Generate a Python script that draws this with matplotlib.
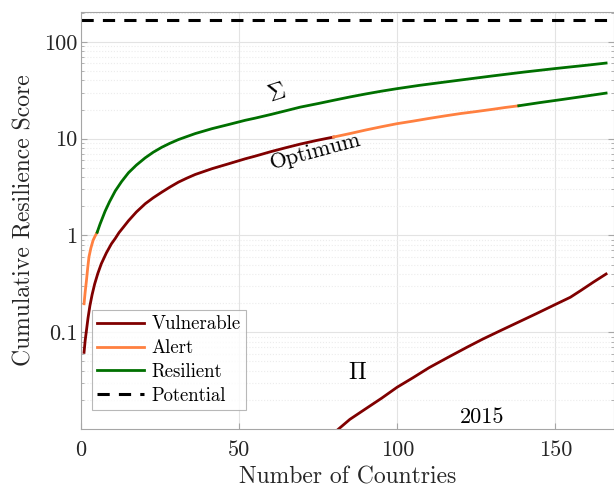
import numpy as np
import matplotlib
matplotlib.use('Agg')
from matplotlib import pyplot as plt
from matplotlib.ticker import FixedLocator, FixedFormatter, LogLocator, NullFormatter

plt.rcParams['font.family'] = 'serif'
plt.rcParams['font.serif'] = ['cmr10', 'DejaVu Serif']
plt.rcParams['mathtext.fontset'] = 'cm'
plt.rcParams['axes.formatter.use_mathtext'] = True

# Sigma curve (cumulative sum), alert part then resilient part
sigma_alert_x = [0.95, 1.3, 1.7, 2.1, 2.5, 3.1, 3.8, 4.4, 5.1]
sigma_alert_y = [0.197, 0.26, 0.34, 0.46, 0.60, 0.74, 0.89, 0.98, 1.08]
sigma_res_x = [5.1, 6.0, 7.6, 9.0, 10.8, 12.8, 15.0, 17.5, 20.3, 22.8, 25.5, 28.0, 30.8, 33.5, 36.1, 41.4,
               46.6, 51.9, 55, 60, 64.6, 69.3, 75, 80, 85, 90, 95, 99.9, 107, 115, 122, 130, 140,
               149.7, 155, 160, 166]
sigma_res_y = [1.08, 1.31, 1.78, 2.23, 2.88, 3.60, 4.45, 5.34, 6.35, 7.24, 8.15, 8.94, 9.80, 10.54, 11.3, 12.7,
               14.0, 15.5, 16.3, 17.8, 19.4, 21.2, 23.1, 25.0, 27.0, 29.0, 31.0, 32.9, 35.6, 38.5, 41.2, 44.5, 48.8,
               53.0, 55.3, 57.5, 60.5]

# Optimum curve, split by status
opt_vul_x = [0.95, 1.3, 1.7, 2.2, 2.8, 3.5, 4.3, 5.3, 6.4, 8.0, 9.6, 10.8, 12.0, 13.4, 15.0, 17.5, 20.3, 22.8,
             25.5, 28.0, 30.8, 33.5, 36.1, 41.4, 46.6, 51.9, 55, 60, 64.6, 69.3, 74.5, 79.8]
opt_vul_y = [0.062, 0.082, 0.104, 0.14, 0.188, 0.245, 0.315, 0.405, 0.51, 0.66, 0.82, 0.93, 1.07, 1.22, 1.42, 1.75,
             2.13, 2.45, 2.80, 3.15, 3.56, 3.92, 4.27, 4.90, 5.50, 6.20, 6.60, 7.35, 8.05, 8.80, 9.60, 10.4]
opt_alert_x = [79.8, 85, 90, 95, 99.9, 105, 110, 115, 120, 125, 130, 134, 138.4]
opt_alert_y = [10.4, 11.3, 12.3, 13.3, 14.3, 15.2, 16.2, 17.2, 18.2, 19.1, 20.1, 21.0, 21.9]
opt_res_x = [138.4, 145, 152, 159, 166]
opt_res_y = [21.9, 23.6, 25.4, 27.4, 29.6]

# Pi curve (product)
pi_x = [81.4, 85, 90, 95, 99.9, 105, 110, 116, 122, 127, 132.6, 138, 144, 149.7, 154.7, 158, 162, 166]
pi_y = [0.010, 0.0126, 0.0162, 0.0208, 0.027, 0.034, 0.043, 0.055, 0.070, 0.085, 0.104, 0.126, 0.156, 0.192, 0.23,
        0.27, 0.33, 0.40]

potential = 168

c_vul = '#800000'
c_alert = '#ff8040'
c_res = '#007000'

fig = plt.figure(figsize=(6.14, 4.87), dpi=100)
ax = fig.add_axes([0.132, 0.119, 0.868, 0.856])

lw = 2.0
ax.plot(opt_vul_x, opt_vul_y, color=c_vul, lw=lw, label='Vulnerable')
ax.plot(sigma_alert_x, sigma_alert_y, color=c_alert, lw=lw, label='Alert')
ax.plot(sigma_res_x, sigma_res_y, color=c_res, lw=lw, label='Resilient')
ax.axhline(potential, color='black', lw=2.2, ls=(0, (4, 3)), label='Potential')
ax.plot(opt_alert_x, opt_alert_y, color=c_alert, lw=lw)
ax.plot(opt_res_x, opt_res_y, color=c_res, lw=lw)
ax.plot(pi_x, pi_y, color=c_vul, lw=lw)

ax.set_yscale('log')
ax.set_xlim(0, 168.5)
ax.set_ylim(0.01, 203)

ax.xaxis.set_major_locator(FixedLocator([0, 50, 100, 150]))
ax.xaxis.set_major_formatter(FixedFormatter(['0', '50', '100', '150']))
ax.yaxis.set_major_locator(FixedLocator([0.1, 1, 10, 100]))
ax.yaxis.set_major_formatter(FixedFormatter(['0.1', '1', '10', '100']))
ax.yaxis.set_minor_locator(LogLocator(base=10, subs=np.arange(2, 10)))
ax.yaxis.set_minor_formatter(NullFormatter())

ax.grid(True, which='major', color='#e3e3e3', lw=0.8)
ax.grid(True, which='minor', axis='y', color='#ececec', lw=0.8, ls=':')
ax.set_axisbelow(True)

for s in ax.spines.values():
    s.set_color('#a6a6a6')
    s.set_linewidth(0.8)
ax.tick_params(which='both', direction='in', colors='#a6a6a6', labelcolor='#262626', labelsize=16,
               top=False, right=True)
ax.tick_params(which='major', length=4)
ax.tick_params(which='minor', length=2)
ax.tick_params(axis='x', pad=8.5)
ax.tick_params(axis='y', pad=2.5)

ax.set_xlabel('Number of Countries', fontsize=17, color='#262626', labelpad=4)
ax.set_ylabel('Cumulative Resilience Score', fontsize=17, color='#262626', labelpad=6)

ax.text(62, 29.4, r'$\Sigma$', fontsize=17, rotation=18, ha='center', va='center')
ax.text(74, 7.4, 'Optimum', fontsize=16, rotation=15, ha='center', va='center')
ax.text(87.3, 0.038, r'$\Pi$', fontsize=17, ha='center', va='center')
ax.text(126.9, 0.0131, '2015', fontsize=16, ha='center', va='center')

leg = ax.legend(loc='lower left', bbox_to_anchor=(0.02, 0.045), fontsize=13.5, frameon=True,
                fancybox=False, edgecolor='#a6a6a6', handlelength=2.5, borderpad=0.3,
                labelspacing=0.31, handletextpad=0.4, borderaxespad=0.0)
leg.get_frame().set_linewidth(0.8)

fig.savefig('out.png', dpi=100)
